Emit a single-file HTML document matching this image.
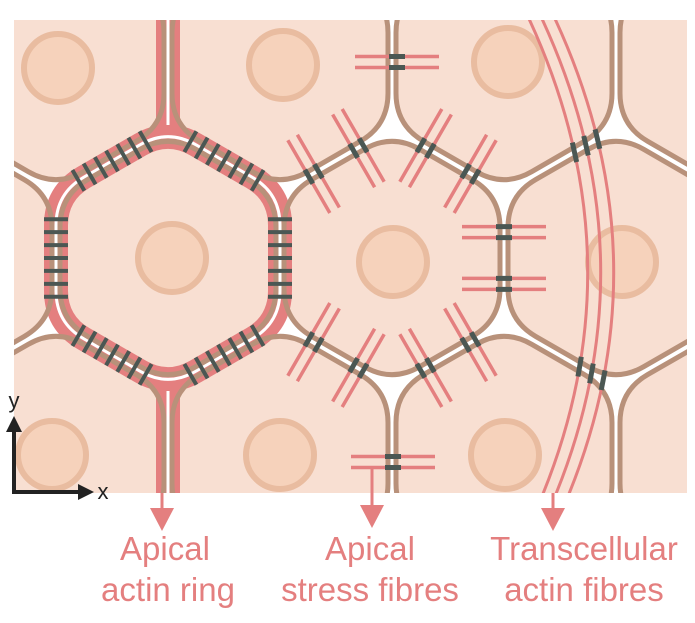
<!DOCTYPE html>
<html><head><meta charset="utf-8"><style>
html,body{margin:0;padding:0;background:#fff;width:695px;height:623px;overflow:hidden}
svg{display:block}
text{font-family:"Liberation Sans",sans-serif;fill:#e47f7f;font-size:33px;text-anchor:middle}
</style></head><body>
<svg id="s" width="695" height="623" viewBox="0 0 695 623" xmlns="http://www.w3.org/2000/svg">
<defs><clipPath id="c"><rect x="14" y="20" width="673" height="473"/></clipPath></defs>
<g id="g" clip-path="url(#c)"><rect x="14" y="20" width="673" height="473" fill="#fff"/></g>
<g fill="#222" stroke="#222" stroke-width="4">
<line x1="14" y1="492" x2="14" y2="430"/><line x1="12" y1="492" x2="80" y2="492"/>
<polygon points="14,416 6,432 22,432" stroke="none"/><polygon points="94,492 78,484 78,500" stroke="none"/>
</g>
<text x="14" y="408" style="fill:#222;font-size:22px">y</text>
<text x="103" y="499" style="fill:#222;font-size:22px">x</text>
<g stroke="#e47f7f" stroke-width="3" fill="#e47f7f">
<line x1="162" y1="493" x2="162" y2="512"/><polygon points="150,508 174,508 162,531" stroke="none"/>
<line x1="372" y1="467" x2="372" y2="508"/><polygon points="360,505 384,505 372,528" stroke="none"/>
<line x1="553" y1="493" x2="553" y2="512"/><polygon points="541,508 565,508 553,531" stroke="none"/>
</g>
<text x="165" y="560">Apical</text><text x="168" y="601">actin ring</text>
<text x="370" y="560">Apical</text><text x="370" y="601">stress fibres</text>
<text x="584" y="560">Transcellular</text><text x="584" y="601">actin fibres</text>
</svg>
<script>
var NS="http://www.w3.org/2000/svg",g=document.getElementById("g");
function el(t,a,p){var e=document.createElementNS(NS,t);for(var k in a)e.setAttribute(k,a[k]);(p||g).appendChild(e);return e;}
var R=124.7,D=32;
function hexPath(cx,cy,r){var v=[];for(var i=0;i<6;i++){var a=(-90+60*i)*Math.PI/180;v.push([cx+r*Math.cos(a),cy+r*Math.sin(a)]);}
var d="";for(var i=0;i<6;i++){var p=v[(i+5)%6],c=v[i],n=v[(i+1)%6];
var l1=Math.hypot(c[0]-p[0],c[1]-p[1]);var a1=[c[0]+(p[0]-c[0])*D/l1,c[1]+(p[1]-c[1])*D/l1],a2=[c[0]+(n[0]-c[0])*D/l1,c[1]+(n[1]-c[1])*D/l1];
d+=(i==0?"M":"L")+a1[0].toFixed(1)+" "+a1[1].toFixed(1)+"Q"+c[0].toFixed(1)+" "+c[1].toFixed(1)+" "+a2[0].toFixed(1)+" "+a2[1].toFixed(1);}
return d+"Z";}
var cells=[[-168,63],[56,63],[280,63],[504,63],[728,63],[-56,258],[168,258],[392,258],[616,258],[840,258],[-168,453],[56,453],[280,453],[504,453],[728,453]];
cells.forEach(function(c){el("path",{d:hexPath(c[0],c[1],R),fill:"#f8dfd2"});});
[[58,68],[283,65],[508,62],[172,258],[393,262],[622,262],[52,455],[280,455],[505,455]].forEach(function(n){el("circle",{cx:n[0],cy:n[1],r:34,fill:"#f6d2bb",stroke:"#e9bca0","stroke-width":6});});
var Rc=R*112/108;
el("path",{d:hexPath(168,258,Rc),fill:"none",stroke:"#e47f7f","stroke-width":24});
el("line",{x1:168,y1:0,x2:168,y2:130,stroke:"#e47f7f","stroke-width":24});
el("line",{x1:168,y1:386,x2:168,y2:500,stroke:"#e47f7f","stroke-width":24});
el("path",{d:hexPath(168,258,Rc),fill:"none",stroke:"#fff","stroke-width":3});
el("line",{x1:168,y1:0,x2:168,y2:125,stroke:"#fff","stroke-width":3});
el("line",{x1:168,y1:391,x2:168,y2:500,stroke:"#fff","stroke-width":3});
cells.forEach(function(c){el("path",{d:hexPath(c[0],c[1],R),fill:"none",stroke:"#b8917a","stroke-width":5});});
function V(cx,cy,i){var a=(-90+60*i)*Math.PI/180;var r=112/0.866;return [cx+r*Math.cos(a),cy+r*Math.sin(a)];}
function bar(x,y,dx,dy,len,w,col){el("line",{x1:x-dx*len/2,y1:y-dy*len/2,x2:x+dx*len/2,y2:y+dy*len/2,stroke:col,"stroke-width":w});}
for(var i=0;i<6;i++){var a=V(168,258,i),b=V(168,258,(i+1)%6);var L=Math.hypot(b[0]-a[0],b[1]-a[1]);var ex=(b[0]-a[0])/L,ey=(b[1]-a[1])/L;
for(var k=0;k<7;k++){var t=0.2+k*0.1;bar(a[0]+(b[0]-a[0])*t,a[1]+(b[1]-a[1])*t,-ey,ex,24,4,"#4b5753");}}
function sf(x,y,ex,ey){var px=-ey,py=ex;[-5.5,5.5].forEach(function(o){var cx=x+ex*o,cy=y+ey*o;bar(cx,cy,px,py,84,3.5,"#e47f7f");});
[-5.5,5.5].forEach(function(o){var cx=x+ex*o,cy=y+ey*o;bar(cx,cy,px,py,16,5,"#4b5753");});}
for(var i=0;i<6;i++){if(i==4)continue;var a=V(392,258,i),b=V(392,258,(i+1)%6);var L=Math.hypot(b[0]-a[0],b[1]-a[1]);var ex=(b[0]-a[0])/L,ey=(b[1]-a[1])/L;
[0.3,0.7].forEach(function(t){sf(a[0]+(b[0]-a[0])*t,a[1]+(b[1]-a[1])*t,ex,ey);});}
sf(397,62,0,1);sf(393,462,0,1);
[-13,0,13].forEach(function(o){var x0=533+o,cx=661+o,x1=547+o;
el("path",{d:"M"+x0+" 0 Q"+cx+" 258 "+x1+" 515",fill:"none",stroke:"#e47f7f","stroke-width":3});
function P(t){return [(1-t)*(1-t)*x0+2*t*(1-t)*cx+t*t*x1,2*t*(1-t)*258+t*t*515];}
function dP(t){return [2*(1-t)*(cx-x0)+2*t*(x1-cx),2*(1-t)*258+2*t*(515-258)];}
[function(p){return p[1]-(193-(p[0]-504)*0.577);},function(p){return p[1]-(323+(p[0]-504)*0.577);}].forEach(function(f,j){
var lo=j==0?0:0.5,hi=j==0?0.5:1;for(var it=0;it<40;it++){var m=(lo+hi)/2;if(f(P(lo))*f(P(m))<=0)hi=m;else lo=m;}
var p=P(lo),d=dP(lo),L=Math.hypot(d[0],d[1]);bar(p[0],p[1],d[0]/L,d[1]/L,20,5,"#4b5753");});});
</script>
</body></html>
